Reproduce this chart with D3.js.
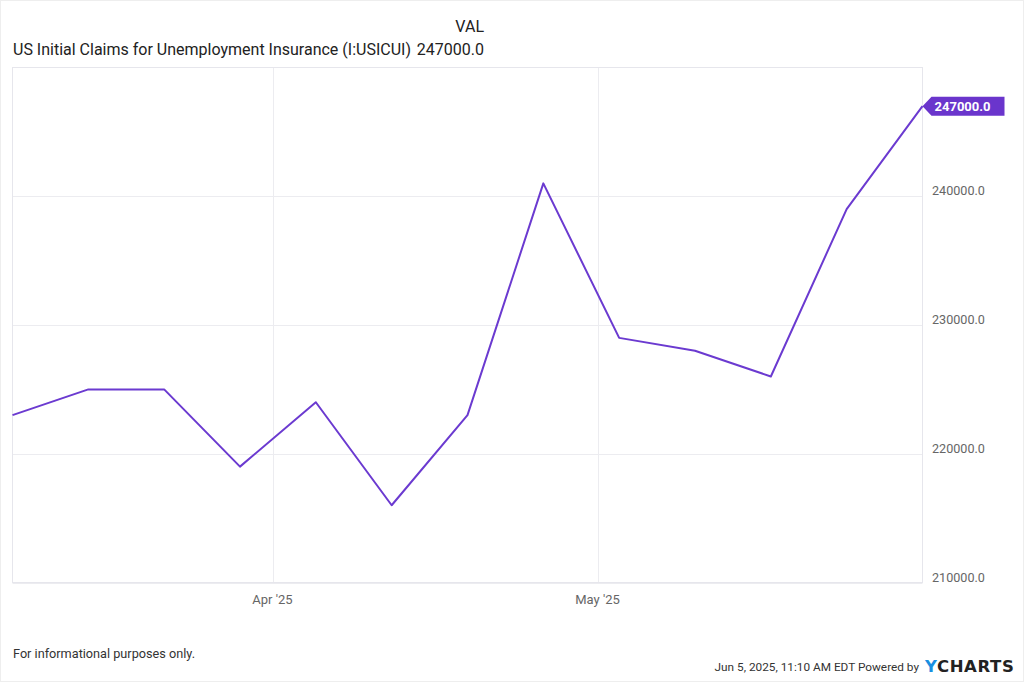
<!DOCTYPE html>
<html><head><meta charset="utf-8">
<script src="https://cdn.jsdelivr.net/npm/d3@7/dist/d3.min.js"></script>
<style>
html,body{margin:0;padding:0;background:#fff;}
svg{display:block;font-family:Roboto,"Noto Sans",sans-serif;}
</style></head>
<body><svg id="c" width="1024" height="682"></svg>
<script>
const dates = ["2025-03-08","2025-03-15","2025-03-22","2025-03-29","2025-04-05","2025-04-12","2025-04-19","2025-04-26","2025-05-03","2025-05-10","2025-05-17","2025-05-24","2025-05-31"];
const claims = [223000,225000,225000,219000,224000,216000,223000,241000,229000,228000,226000,239000,247000];
const yTicks = [210000,220000,230000,240000];
const xTickDates = ["2025-04-01","2025-05-01"];
const xTickLabels = ["Apr '25","May '25"];
const seriesName = "US Initial Claims for Unemployment Insurance (I:USICUI)";
const lastLabel = "247000.0";

const parse = d3.timeParse("%Y-%m-%d");
const data = dates.map((d,i)=>({date:parse(d), v:claims[i]}));
const svg = d3.select("#c");
const L=12.5, R=922.5, T=67.5, B=582.5;
const color="#6b3ad0";

// outer frame
svg.append("rect").attr("x",0.5).attr("y",0.5).attr("width",1023).attr("height",681).attr("fill","none").attr("stroke","#eeeeee");

const x = d3.scaleTime().domain(d3.extent(data,d=>d.date)).range([L,R]);
const y = d3.scaleLinear().domain([210000,250000]).range([B,T]);

// gridlines
svg.append("g").selectAll("line").data(yTicks).join("line")
  .attr("x1",L).attr("x2",R).attr("y1",d=>Math.round(y(d))+0.5).attr("y2",d=>Math.round(y(d))+0.5)
  .attr("stroke","#ececf0");
svg.append("g").selectAll("line").data(xTickDates).join("line")
  .attr("x1",d=>Math.round(x(parse(d)))+0.5).attr("x2",d=>Math.round(x(parse(d)))+0.5).attr("y1",T).attr("y2",B)
  .attr("stroke","#ececf0");
// plot frame
svg.append("rect").attr("x",L).attr("y",T).attr("width",R-L).attr("height",B-T).attr("fill","none").attr("stroke","#e6e6ec");

// y labels
svg.append("g").selectAll("text").data(yTicks).join("text")
  .attr("x",932).attr("y",d=>y(d)-1).attr("font-size",12.6).attr("fill","#666")
  .text(d=>d3.format(".1f")(d));
// x labels
svg.append("g").selectAll("text").data(xTickDates).join("text")
  .attr("x",d=>x(parse(d))).attr("y",604).attr("text-anchor","middle").attr("font-size",13).attr("fill","#666")
  .text((d,i)=>xTickLabels[i]);

// line
svg.append("path").datum(data)
  .attr("d",d3.line().x(d=>x(d.date)).y(d=>y(d.v)))
  .attr("fill","none").attr("stroke",color).attr("stroke-width",2).attr("stroke-linejoin","round");

// last value badge
const last = data[data.length-1];
const bx = x(last.date), by = y(last.v);
svg.append("path")
  .attr("d",`M${bx},${by} L${bx+9},${by-9.5} L${bx+82},${by-9.5} L${bx+82},${by+9.5} L${bx+9},${by+9.5} Z`)
  .attr("fill","#6a35cc");
svg.append("text").attr("x",bx+12).attr("y",by+4.5).attr("font-size",13).attr("font-weight","bold").attr("fill","#fff").text(lastLabel);

// title
svg.append("text").attr("x",484).attr("y",32).attr("text-anchor","end").attr("font-size",16).attr("fill","#222").text("VAL");
svg.append("text").attr("x",13).attr("y",55).attr("font-size",16).attr("fill","#222").text(seriesName);
svg.append("text").attr("x",484).attr("y",55).attr("text-anchor","end").attr("font-size",16).attr("fill","#222").text(lastLabel);

// footer
svg.append("text").attr("x",13).attr("y",658).attr("font-size",12.7).attr("fill","#333").text("For informational purposes only.");
svg.append("text").attr("x",919).attr("y",671).attr("text-anchor","end").attr("font-size",11.8).attr("fill","#333").text("Jun 5, 2025, 11:10 AM EDT Powered by");
const logo = svg.append("text").attr("x",925).attr("y",672).attr("font-size",16.5).attr("font-weight","bold").attr("letter-spacing",0.6).attr("font-family","'DejaVu Sans',sans-serif");
logo.append("tspan").attr("fill","#1a8fe0").text("Y");
logo.append("tspan").attr("fill","#222").text("CHARTS");
</script></body></html>
